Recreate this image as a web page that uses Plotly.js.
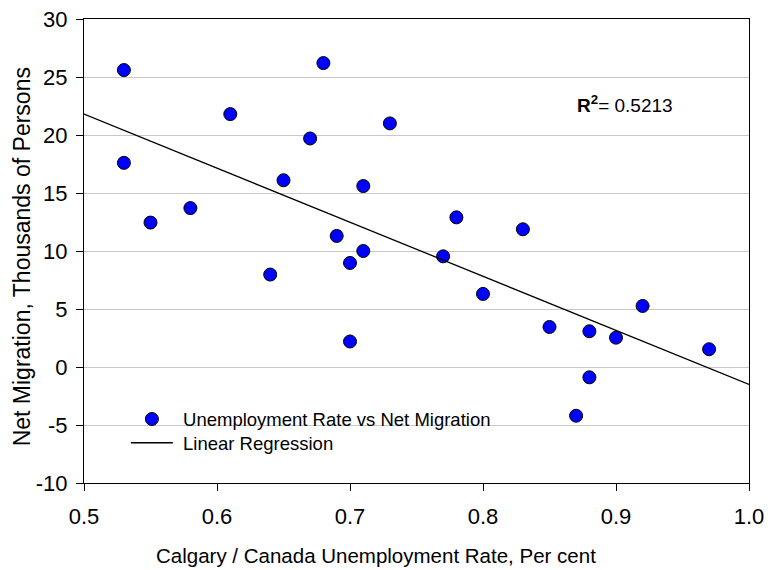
<!DOCTYPE html>
<html>
<head>
<meta charset="utf-8">
<script src="https://cdn.plot.ly/plotly-3.0.1.min.js"></script>
<style>html,body{margin:0;padding:0;background:#fff;}#chart{width:783px;height:570px;}</style>
</head>
<body>
<div id="chart"></div>
<script>
// Calgary / Canada unemployment rate ratio vs net migration (thousands)
var unemploymentRatio = [0.53, 0.68, 0.61, 0.73, 0.67, 0.53, 0.65, 0.71, 0.58, 0.55, 0.69, 0.71, 0.70, 0.64,
                         0.78, 0.83, 0.77, 0.70, 0.80, 0.85, 0.88, 0.90, 0.92, 0.97, 0.88, 0.87];
var netMigration = [25.6, 26.2, 21.8, 21.0, 19.7, 17.6, 16.1, 15.6, 13.7, 12.45, 11.3, 10.0, 8.97, 7.97,
                    12.9, 11.87, 9.54, 2.2, 6.3, 3.45, 3.08, 2.53, 5.26, 1.53, -0.89, -4.2];
var regressionX = [0.5, 1.0];
var regressionY = [21.8, -1.5];
var rSquared = "0.5213";
var xTickVals = [0.5, 0.6, 0.7, 0.8, 0.9, 1.0];
var xTickText = ["0.5", "0.6", "0.7", "0.8", "0.9", "1.0"];
var yTickVals = [-10, -5, 0, 5, 10, 15, 20, 25, 30];
var yTickText = ["-10", "-5", "0", "5", "10", "15", "20", "25", "30"];
var xTitle = "Calgary / Canada Unemployment Rate, Per cent";
var yTitle = "Net Migration, Thousands of Persons";

var font = "Arial, 'Liberation Sans', Helvetica, sans-serif";

var traces = [
  {
    x: unemploymentRatio, y: netMigration, type: 'scatter', mode: 'markers',
    name: '&nbsp;Unemployment Rate vs Net Migration', legend: 'legend',
    marker: {color: '#0000ff', size: 13, line: {color: '#000000', width: 1}},
    cliponaxis: false
  },
  {
    x: regressionX, y: regressionY, type: 'scatter', mode: 'lines',
    name: '&nbsp;Linear Regression', legend: 'legend2',
    line: {color: '#000000', width: 1.3}
  }
];

var legendFont = {family: font, size: 18.5, color: '#000000'};

var layout = {
  width: 783, height: 570,
  margin: {l: 84, r: 34, t: 19, b: 87, pad: 0},
  paper_bgcolor: '#ffffff', plot_bgcolor: '#ffffff',
  font: {family: font, size: 20, color: '#000000'},
  showlegend: true,
  legend: {
    x: 0.063, y: 0.1778, xanchor: 'left', yanchor: 'top',
    bgcolor: 'rgba(0,0,0,0)', borderwidth: 0, font: legendFont, itemwidth: 42
  },
  legend2: {
    x: 0.063, y: 0.1267, xanchor: 'left', yanchor: 'top',
    bgcolor: 'rgba(0,0,0,0)', borderwidth: 0, font: legendFont, itemwidth: 42
  },
  xaxis: {
    range: [0.5, 1.0], tickvals: xTickVals, ticktext: xTickText,
    ticks: 'outside', ticklen: 7, tickwidth: 1, tickcolor: '#000000',
    showline: true, linecolor: '#000000', linewidth: 1, mirror: true,
    showgrid: false, zeroline: false,
    tickfont: {family: font, size: 22, color: '#000000'},
    ticklabelstandoff: 7
  },
  yaxis: {
    range: [-10, 30], tickvals: yTickVals, ticktext: yTickText,
    ticks: 'outside', ticklen: 7, tickwidth: 1, tickcolor: '#000000',
    showline: true, linecolor: '#000000', linewidth: 1, mirror: true,
    showgrid: true, gridcolor: '#c8c8c8', gridwidth: 1, zeroline: false,
    tickfont: {family: font, size: 22, color: '#000000'},
    ticklabelstandoff: 4
  },
  annotations: [
    {
      xref: 'x', yref: 'y', x: 0.869, y: 22.7, xanchor: 'left', yanchor: 'middle',
      text: '<b>R<sup>2</sup></b>= ' + rSquared, showarrow: false,
      font: {family: font, size: 19, color: '#000000'}
    },
    {
      xref: 'paper', yref: 'paper', x: 0.439, y: -0.156, xanchor: 'center', yanchor: 'middle',
      text: xTitle, showarrow: false,
      font: {family: font, size: 20.5, color: '#000000'}
    },
    {
      xref: 'paper', yref: 'paper', x: -0.0932, y: 0.4864, xanchor: 'center', yanchor: 'middle',
      text: yTitle, showarrow: false, textangle: -90,
      font: {family: font, size: 23, color: '#000000'}
    }
  ]
};

Plotly.newPlot('chart', traces, layout, {displayModeBar: false, staticPlot: true});
</script>
</body>
</html>
